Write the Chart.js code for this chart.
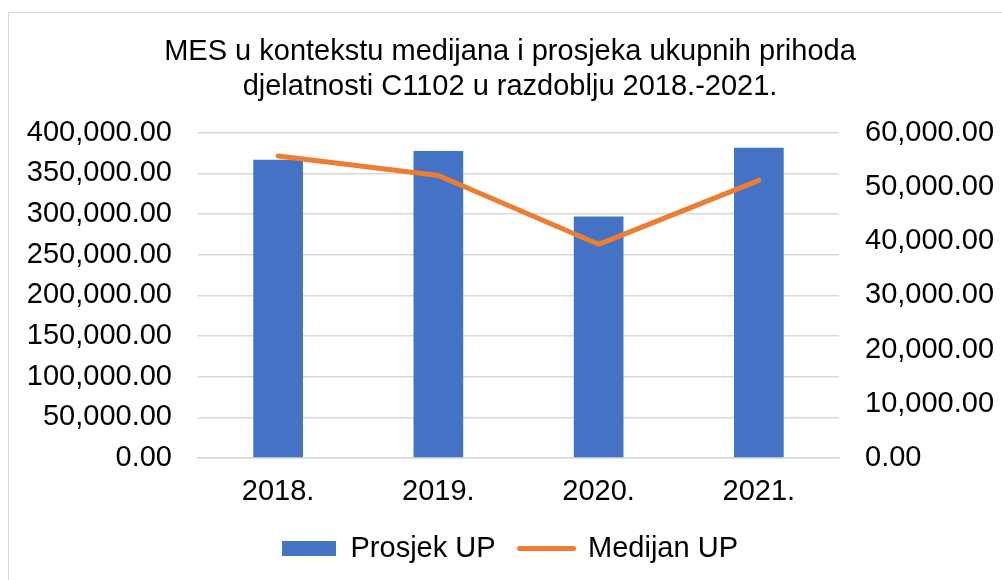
<!DOCTYPE html>
<html lang="hr">
<head>
  <meta charset="UTF-8">
  <title>MES u kontekstu medijana i prosjeka ukupnih prihoda</title>
  <script src="https://cdn.jsdelivr.net/npm/chart.js"></script>
  <style>
    html, body {
      margin: 0;
      padding: 0;
      background: #ffffff;
      overflow: hidden;
    }
    #frame {
      position: absolute;
      left: 8px;
      top: 12px;
      width: 1200px;
      height: 800px;
      border: 1px solid #d9d9d9;
    }
    #chart-container {
      position: absolute;
      left: 0;
      top: 0;
      width: 1002px;
      height: 580px;
    }
  </style>
</head>
<body>
<div id="frame"></div>
<div id="chart-container">
  <canvas id="mesChart"></canvas>
</div>

<script>
  // data
  const years = ['2018.', '2019.', '2020.', '2021.'];
  const prosjekUP = [366500, 377500, 297000, 381500];
  const medijanUP = [55700, 52100, 39400, 51200];

  const titleLines = ['MES u kontekstu medijana i prosjeka ukupnih prihoda', 'djelatnosti C1102 u razdoblju 2018.-2021.'];

  const FONT = '"Liberation Sans", Arial, sans-serif';
  const FSIZE = 29;
  const BLUE = '#4472C4';
  const ORANGE = '#ED7D31';

  function fmt(v) {
    return Number(v).toLocaleString('en-US', { minimumFractionDigits: 2, maximumFractionDigits: 2 });
  }

  const ctx = document.getElementById('mesChart').getContext('2d');
  new Chart(ctx, {
    data: {
      labels: years,
      datasets: [
        {
          type: 'line',
          label: 'Medijan UP',
          data: medijanUP,
          yAxisID: 'y1',
          borderColor: ORANGE,
          backgroundColor: ORANGE,
          borderWidth: 5,
          borderCapStyle: 'round',
          borderJoinStyle: 'round',
          pointRadius: 0,
          tension: 0,
          order: 0
        },
        {
          type: 'bar',
          label: 'Prosjek UP',
          data: prosjekUP,
          yAxisID: 'y',
          backgroundColor: BLUE,
          barPercentage: 0.31,
          categoryPercentage: 1,
          order: 1
        }
      ]
    },
    options: {
      responsive: true,
      maintainAspectRatio: false,
      animation: false,
      layout: {
        padding: { left: 18, right: 0, top: 0, bottom: 7 }
      },
      plugins: {
        tooltip: { enabled: false },
        title: {
          display: true,
          text: titleLines,
          color: '#000000',
          font: { family: FONT, size: FSIZE, weight: 'normal', lineHeight: 1.2 },
          padding: { top: 35, bottom: 28 }
        },
        legend: {
          position: 'bottom',
          labels: {
            color: '#000000',
            font: { family: FONT, size: FSIZE },
            usePointStyle: true,
            pointStyleWidth: 54,
            boxHeight: 15,
            padding: 24,
            generateLabels: function () {
              return [
                { text: 'Prosjek UP', fillStyle: BLUE, strokeStyle: BLUE, lineWidth: 0, pointStyle: 'rect', fontColor: '#000' },
                { text: 'Medijan UP', fillStyle: ORANGE, strokeStyle: ORANGE, lineWidth: 5, pointStyle: 'line', lineCap: 'round', fontColor: '#000' }
              ];
            }
          }
        }
      },
      scales: {
        x: {
          afterFit: function (scale) { scale.height = 52; },
          grid: { display: false, drawTicks: false },
          border: { display: true, color: '#d9d9d9', width: 1.5 },
          ticks: {
            color: '#000000',
            font: { family: FONT, size: FSIZE },
            padding: 17
          }
        },
        y: {
          position: 'left',
          min: 0,
          max: 400000,
          afterFit: function (scale) { scale.width = 180; },
          grid: { color: '#d9d9d9', lineWidth: 1.5, drawTicks: false },
          border: { display: false },
          ticks: {
            stepSize: 50000,
            color: '#000000',
            font: { family: FONT, size: FSIZE },
            padding: 26,
            callback: function (v) { return fmt(v); }
          }
        },
        y1: {
          position: 'right',
          min: 0,
          max: 60000,
          afterFit: function (scale) { scale.width = 163; },
          grid: { display: false, drawTicks: false },
          border: { display: false },
          ticks: {
            stepSize: 10000,
            color: '#000000',
            font: { family: FONT, size: FSIZE },
            padding: 26,
            callback: function (v) { return fmt(v); }
          }
        }
      }
    }
  });
</script>
</body>
</html>
